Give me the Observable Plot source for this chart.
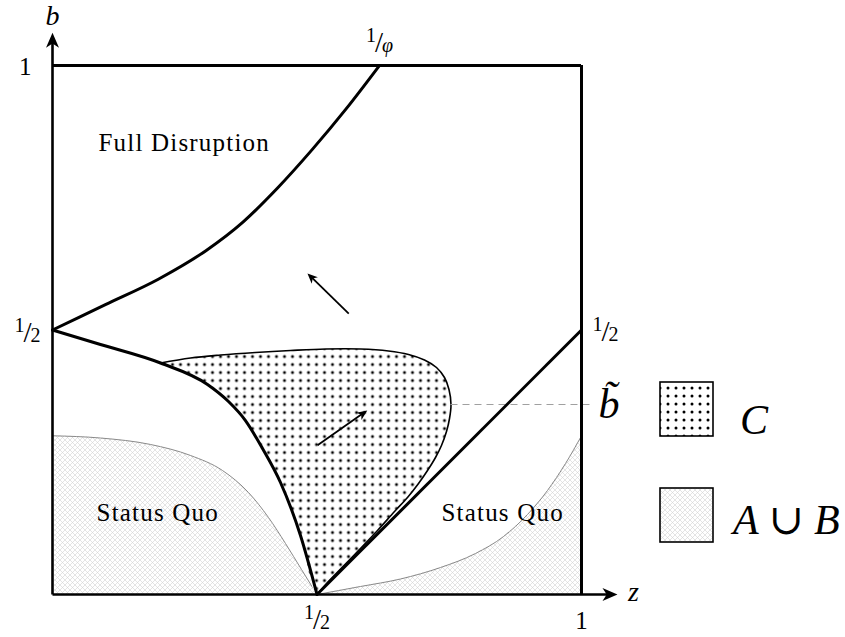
<!DOCTYPE html>
<html>
<head>
<meta charset="utf-8">
<script src="https://cdn.jsdelivr.net/npm/d3@7"></script>
<script src="https://cdn.jsdelivr.net/npm/@observablehq/plot@0.6"></script>
<style>
  html, body { margin: 0; padding: 0; background: #fff; }
  svg { display: block; }
</style>
</head>
<body>
<div id="chart"></div>
<script>
// ---- Phase diagram in the (z, b) unit square ----
const phi = (1 + Math.sqrt(5)) / 2;

// Boundary of the Full Disruption region, from (0, 1/2) up to (1/phi, 1)
const disruptionZ = [0, 0.1, 0.2, 0.29, 0.36, 0.425, 0.49, 0.555, 1 / phi];
const disruptionB = [0.5, 0.548, 0.596, 0.650, 0.704, 0.768, 0.840, 0.918, 1];

// Lower-left boundary, from (0, 1/2) down to (1/2, 0)
const lowerZ = [0, 0.0907, 0.2042, 0.2930, 0.3327, 0.3648, 0.3970, 0.4310, 0.4688, 0.5];
const lowerB = [0.5, 0.4726, 0.4376, 0.3970, 0.3648, 0.3289, 0.2760, 0.2117, 0.1115, 0];

// Outer edge of region C: leaves the lower-left boundary and returns to (1/2, 0)
const regionCZ = [0.2042, 0.2609, 0.3176, 0.3837, 0.4499, 0.5161, 0.5822, 0.6352, 0.6730, 0.7032, 0.7259, 0.7410, 0.7495, 0.7533,
                  0.7505, 0.7448, 0.7353, 0.7240, 0.7089, 0.6919, 0.6711, 0.6465, 0.6144, 0.5803, 0.5454, 0.5198, 0.5];
const regionCB = [0.4376, 0.4471, 0.4527, 0.4575, 0.4612, 0.4641, 0.4641, 0.4603, 0.4537, 0.4433, 0.4291, 0.4102, 0.3875, 0.3592,
                  0.3327, 0.3081, 0.2817, 0.2590, 0.2344, 0.2098, 0.1834, 0.1569, 0.1210, 0.0851, 0.0491, 0.0227, 0];

// Straight boundary b = z - 1/2
const diagonalZ = [0.5, 1];
const diagonalB = [0, 0.5];

// Upper edges of A ∪ B (Status Quo), left and right lobes
const quoLeftZ = [0, 0.0907, 0.1853, 0.2609, 0.3214, 0.3705, 0.4083, 0.4405, 0.4707, 0.5];
const quoLeftB = [0.3, 0.2958, 0.2836, 0.2628, 0.2344, 0.1928, 0.1456, 0.0964, 0.0473, 0];
const quoRightZ = [0.5, 0.5822, 0.6578, 0.7335, 0.7996, 0.8526, 0.8979, 0.9357, 0.9698, 1];
const quoRightB = [0, 0.0151, 0.0293, 0.0510, 0.0775, 0.1096, 0.1512, 0.1966, 0.2476, 0.3];

// Threshold b-tilde, reached at the rightmost point of C
const bTilde = 0.3592;
const bTildeZ = 0.7533;

// Drift arrows (tail -> tip)
const driftTails = [{z: 0.560, b: 0.531}, {z: 0.501, b: 0.282}];
const driftTips = [{z: 0.482, b: 0.607}, {z: 0.595, b: 0.348}];

// Axis extents
const zAxisEnd = 1.068;
const bAxisEnd = 1.062;

// Tick labels
const leftTicks = [{b: 1, label: "1"}, {b: 0.5, label: "1/2"}];
const bottomTicks = [{z: 0.5, label: "1/2"}, {z: 1, label: "1"}];
const topTicks = [{z: 1 / phi, label: "1/φ"}];
const rightTicks = [{b: 0.5, label: "1/2"}];

// Region names
const regionLabels = [
  {z: 0.249, b: 0.853, text: "Full Disruption"},
  {z: 0.199, b: 0.155, text: "Status Quo"},
  {z: 0.851, b: 0.155, text: "Status Quo"}
];

// Legend entries
const legendItems = [
  {label: "C", pattern: "dots"},
  {label: "A ∪ B", pattern: "hatch"}
];

const pts = (zs, bs) => zs.map((z, i) => ({z, b: bs[i]}));

const W = 845, H = 637;
const M = {top: 65, right: 264, bottom: 43, left: 52};
const SERIF = "'Liberation Serif', 'DejaVu Serif', serif";

const xs = Plot.scale({x: {domain: [0, 1], range: [M.left, W - M.right]}});
const ys = Plot.scale({y: {domain: [0, 1], range: [H - M.bottom, M.top]}});

// Filled stealth arrowhead with its tip at the origin, pointing up
const stealth = {
  draw(context, size) {
    const r = Math.sqrt(size / Math.PI);
    const len = 3 * r, w = 1.3 * r;
    context.moveTo(0, 0);
    context.lineTo(-w, len);
    context.lineTo(0, 0.72 * len);
    context.lineTo(w, len);
    context.closePath();
  }
};

function arrowParts(tail, tip, r) {
  const x0 = xs.apply(tail.z), y0 = ys.apply(tail.b);
  const x1 = xs.apply(tip.z), y1 = ys.apply(tip.b);
  const L = Math.hypot(x1 - x0, y1 - y0);
  const ux = (x1 - x0) / L, uy = (y1 - y0) / L;
  const back = 1.5 * r;
  return {
    z1: tail.z, b1: tail.b,
    z2: xs.invert(x1 - ux * back), b2: ys.invert(y1 - uy * back),
    tz: tip.z, tb: tip.b,
    angle: Math.atan2(ux, -uy) * 180 / Math.PI
  };
}

const AXIS_HEAD = 5, DRIFT_HEAD = 3.4;
const axisArrows = [
  arrowParts({z: 0, b: 0}, {z: 0, b: bAxisEnd}, AXIS_HEAD),
  arrowParts({z: 0, b: 0}, {z: zAxisEnd, b: 0}, AXIS_HEAD)
];
const driftArrows = driftTails.map((t, i) => arrowParts(t, driftTips[i], DRIFT_HEAD));

const regionC = pts(regionCZ, regionCB).concat(
  pts(lowerZ, lowerB).filter(d => d.z > lowerZ[2] && d.z < 0.5).reverse(),
  [{z: lowerZ[2], b: lowerB[2]}]
);

const T = {fill: "black", fontFamily: SERIF};
const FRAC = 20; // digit size in the n/d labels

const plot = Plot.plot({
  width: W,
  height: H,
  marginTop: M.top,
  marginRight: M.right,
  marginBottom: M.bottom,
  marginLeft: M.left,
  x: {domain: [0, 1], axis: null},
  y: {domain: [0, 1], axis: null},
  style: {fontFamily: SERIF, background: "white", color: "black"},
  marks: [
    // A ∪ B
    Plot.areaY(pts(quoLeftZ, quoLeftB), {x: "z", y: "b", fill: "url(#hatch)", curve: "monotone-x"}),
    Plot.areaY(pts(quoRightZ, quoRightB), {x: "z", y: "b", fill: "url(#hatch)", curve: "monotone-x"}),
    Plot.line(pts(quoLeftZ, quoLeftB), {x: "z", y: "b", stroke: "#8a8a8a", strokeWidth: 1, curve: "monotone-x"}),
    Plot.line(pts(quoRightZ, quoRightB), {x: "z", y: "b", stroke: "#8a8a8a", strokeWidth: 1, curve: "monotone-x"}),

    // C
    Plot.line(regionC, {x: "z", y: "b", fill: "url(#dots)", stroke: "none", curve: "catmull-rom"}),
    Plot.line(pts(regionCZ, regionCB), {x: "z", y: "b", stroke: "black", strokeWidth: 1.6, curve: "catmull-rom"}),

    // b-tilde guide
    Plot.ruleY([bTilde], {x1: bTildeZ, x2: 1.016, stroke: "#a0a0a0", strokeWidth: 1.2, strokeDasharray: "7,5"}),

    // thick boundaries
    Plot.line(pts(lowerZ, lowerB), {x: "z", y: "b", stroke: "black", strokeWidth: 3, curve: "monotone-x"}),
    Plot.line(pts(disruptionZ, disruptionB), {x: "z", y: "b", stroke: "black", strokeWidth: 3, curve: "monotone-x"}),
    Plot.line(pts(diagonalZ, diagonalB), {x: "z", y: "b", stroke: "black", strokeWidth: 3}),

    // frame
    Plot.ruleY([1], {x1: 0, x2: 1, stroke: "black", strokeWidth: 3}),
    Plot.ruleX([1], {y1: 0, y2: 1, stroke: "black", strokeWidth: 3}),

    // axes with arrowheads
    Plot.link(axisArrows, {x1: "z1", y1: "b1", x2: "z2", y2: "b2", stroke: "black", strokeWidth: 2.6}),
    Plot.dot(axisArrows, {x: "tz", y: "tb", r: AXIS_HEAD, rotate: "angle", symbol: stealth, fill: "black", stroke: "none"}),

    // drift arrows
    Plot.link(driftArrows, {x1: "z1", y1: "b1", x2: "z2", y2: "b2", stroke: "black", strokeWidth: 1.8}),
    Plot.dot(driftArrows, {x: "tz", y: "tb", r: DRIFT_HEAD, rotate: "angle", symbol: stealth, fill: "black", stroke: "none"}),

    // axis names
    Plot.text([{z: 0, b: 1.094}], {x: "z", y: "b", text: () => "b", fontSize: 28, fontStyle: "italic", ...T}),
    Plot.text([{z: 1.098, b: 0}], {x: "z", y: "b", text: () => "z", fontSize: 28, fontStyle: "italic", dy: -2, ...T}),

    // tick labels
    Plot.text(leftTicks.filter(d => d.label === "1"), {x: () => 0, y: "b", text: "label", textAnchor: "end", dx: -21, dy: 1, fontSize: 25, ...T}),
    Plot.text(leftTicks.filter(d => d.label !== "1"), {x: () => 0, y: "b", text: "label", textAnchor: "end", dx: -12, dy: 6, fontSize: FRAC, ...T}),
    Plot.text(rightTicks, {x: () => 1, y: "b", text: "label", textAnchor: "start", dx: 11, dy: 5, fontSize: FRAC, ...T}),
    Plot.text(topTicks, {x: "z", y: () => 1, text: "label", dy: -20, fontSize: FRAC, ...T}),
    Plot.text(bottomTicks.filter(d => d.label !== "1"), {x: "z", y: () => 0, text: "label", dy: 28, fontSize: FRAC, ...T}),
    Plot.text(bottomTicks.filter(d => d.label === "1"), {x: "z", y: () => 0, text: "label", dy: 26, fontSize: 25, ...T}),

    // b-tilde label
    Plot.text([{z: 1, b: bTilde}], {x: "z", y: "b", text: () => "b\u0303", textAnchor: "start", dx: 17, dy: 0, fontSize: 42, fontStyle: "italic", ...T}),

    // region names
    Plot.text(regionLabels, {x: "z", y: "b", text: "text", fontSize: 25, ...T})
  ]
});

const svg = d3.select(plot).attr("font-family", SERIF);

// Fill patterns
const defs = svg.insert("defs", ":first-child");
const dots = defs.append("pattern").attr("id", "dots").attr("patternUnits", "userSpaceOnUse")
  .attr("width", 8).attr("height", 8);
dots.append("rect").attr("width", 8).attr("height", 8).attr("fill", "white");
dots.append("circle").attr("cx", 4).attr("cy", 4).attr("r", 1.5).attr("fill", "black");

const hatch = defs.append("pattern").attr("id", "hatch").attr("patternUnits", "userSpaceOnUse")
  .attr("width", 5).attr("height", 5);
hatch.append("rect").attr("width", 5).attr("height", 5).attr("fill", "white");
hatch.append("path").attr("d", "M0,0L5,5M5,0L0,5").attr("stroke", "#d2d2d2").attr("stroke-width", 0.6).attr("fill", "none");

// Typeset "n/d" labels as a small raised numerator, a tall slash and a small denominator
svg.selectAll("text")
  .filter(function () { return /^.\/.$/.test(this.textContent); })
  .each(function () {
    const [num, den] = this.textContent.split("/");
    let base = 0;
    const dyAttr = this.getAttribute("dy");
    if (dyAttr) base = dyAttr.endsWith("em") ? parseFloat(dyAttr) * FRAC : parseFloat(dyAttr);
    this.removeAttribute("dy");
    const t = d3.select(this).text(null);
    t.append("tspan").attr("dy", `${base - 10}px`).text(num);
    t.append("tspan").attr("dy", "10px").attr("dx", "-1px").attr("font-size", 29).text("/");
    const d = t.append("tspan").attr("dy", "0px").attr("dx", "-1px").text(den);
    if (den === "φ") d.attr("font-style", "italic");
  });

svg.selectAll("text")
  .filter(function () { return regionLabels.some(d => d.text === this.textContent); })
  .style("letter-spacing", "1.2px");

// Legend
const legend = svg.append("g").attr("font-family", SERIF).attr("text-anchor", "start");
legendItems.forEach((d, i) => {
  const y0 = 382 + i * 106;
  legend.append("rect")
    .attr("x", 660).attr("y", y0).attr("width", 53).attr("height", 54)
    .attr("fill", `url(#${d.pattern})`).attr("stroke", "black").attr("stroke-width", 1.6);
  legend.append("text")
    .attr("x", i === 0 ? 740 : 733).attr("y", y0 + (i === 0 ? 52 : 46))
    .attr("font-size", 42).attr("font-style", "italic").attr("fill", "black")
    .text(d.label);
});

document.getElementById("chart").appendChild(plot);
</script>
</body>
</html>
